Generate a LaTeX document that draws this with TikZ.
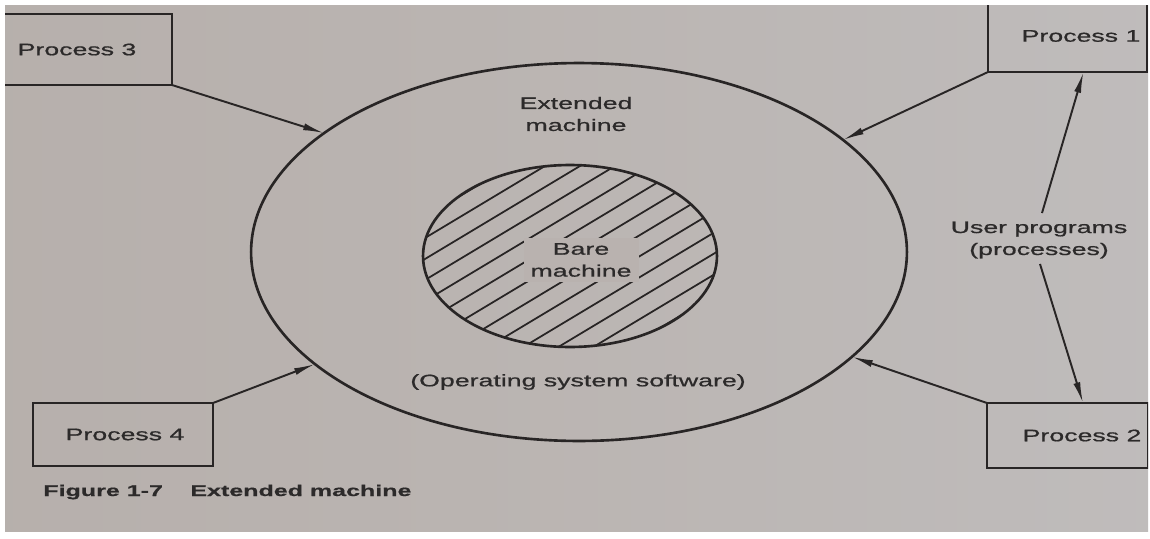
\documentclass[tikz,border=0pt]{standalone}
\usepackage{fontspec}
\newfontfamily\labelfont{Liberation Sans}[FakeStretch=1.6,FakeBold=0.8]
\newfontfamily\captionfont{Liberation Sans Bold}[FakeStretch=1.6,FakeBold=0.6]
\usetikzlibrary{arrows.meta,calc,shapes.geometric}

\definecolor{paperL}{RGB}{178,170,166}
\definecolor{paperM}{RGB}{186,180,177}
\definecolor{paperR}{RGB}{200,201,205}
\definecolor{ink}{RGB}{40,37,37}
\definecolor{textink}{RGB}{44,42,42}

\pgfdeclarehorizontalshading{paper}{100bp}{color(0bp)=(paperL); color(45bp)=(paperM); color(78bp)=(paperM!60!paperR); color(86bp)=(paperR); color(100bp)=(paperR)}

\tikzset{
  lbl/.style={font=\labelfont\fontsize{9.5}{12.5}\selectfont, text=textink, align=center, inner sep=0pt},
  box/.style={draw=ink, line width=1.5pt, rectangle, inner sep=0pt, outer sep=0pt},
  ring/.style={draw=ink, line width=1.5pt, ellipse, inner sep=0pt, outer sep=0pt},
  conn/.style={draw=ink, line width=1.1pt, -{Latex[length=0.42cm,width=0.14cm]}},
  hatch/.style={draw=ink, line width=1pt},
}

\begin{document}
\begin{tikzpicture}[x=0.02cm,y=-0.02cm]
\useasboundingbox (0,0) rectangle (1150,538);
\fill[white] (0,0) rectangle (1150,538);
\shade[shading=paper] (5,5) rectangle (1148,531);

\begin{scope}
\clip (5,5) rectangle (1148,531);

% process boxes
\node[box, minimum width=3.48cm, minimum height=1.42cm,
      label={[lbl,xshift=-0.16cm]center:Process 3}] (p3) at (85,49.5) {};
\node[box, minimum width=3.18cm, minimum height=1.44cm,
      label={[lbl,xshift=0.27cm]center:Process 1}] (p1) at (1067.5,36) {};
\node[box, minimum width=3.22cm, minimum height=1.3cm,
      label={[lbl,xshift=0.29cm]center:Process 2}] (p2) at (1067.5,435.5) {};
\node[box, minimum width=3.6cm, minimum height=1.26cm,
      label={[lbl,xshift=0.04cm]center:Process 4}] (p4) at (123,434.5) {};

% extended machine
\node[ring, minimum width=13.12cm, minimum height=7.56cm] (ext) at (579,252) {};

% hatched bare machine
\begin{scope}
\clip (570,256) ellipse [x radius=2.94cm, y radius=1.82cm];
\foreach \i in {-12,...,12}
  \draw[hatch] (570+\i*35-260,256+156) -- (570+\i*35+260,256-156);
\end{scope}
\node[ring, minimum width=5.88cm, minimum height=3.64cm] (bare) at (570,256) {};
\node[lbl, fill=paperM!85!paperL, inner xsep=4pt, inner ysep=3pt] (baretxt) at (581,260) {Bare\\machine};

\node[lbl] (exttxt) at (576,114) {Extended\\machine};
\node[lbl] (ostxt) at (578,382) {(Operating system software)};
\node[lbl] (user) at (1039,240) {User programs\\(processes)};

% connectors
\draw[conn] (p3.south east) -- (ext.155);
\draw[conn] (p1.south west) -- (ext.23.5);
\draw[conn] (p4.north east) -- (ext.-157.4);
\draw[conn] (p2.north west) -- (ext.-21);

\coordinate (u1) at (1042,213);
\coordinate (u2) at (1040,264);
\draw[conn] (u1) -- ($(p1.south west)+(95.5,0)$);
\draw[conn] (u2) -- ($(p2.north west)+(96,0)$);

% caption
\node[lbl, anchor=west, font=\captionfont\fontsize{8.9}{11}\selectfont] (cap) at (43,492) {Figure 1-7\hspace{0.55cm}Extended machine};
\end{scope}
\end{tikzpicture}
\end{document}
